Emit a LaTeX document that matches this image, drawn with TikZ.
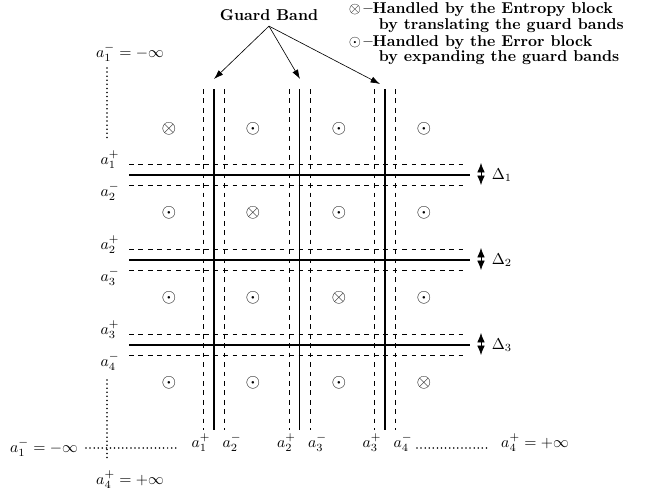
\documentclass[tikz,border=0pt]{standalone}
\usepackage{amsmath}
\usepackage{amssymb}
\usepackage{tikz}
\usetikzlibrary{arrows.meta, positioning}

\begin{document}
\begin{tikzpicture}[
    x=0.637pt, y=-0.637pt,
    gridline/.style={line width=0.9pt},
    bandline/.style={dashed, line width=0.45pt},
    dotline/.style={line width=1.1pt, line cap=round, dash pattern=on 0pt off 2.6pt},
    lbl/.style={inner sep=1pt},
    cell/.style={font=\large},
    legend/.style={anchor=west, inner sep=1pt, font=\bfseries},
    arrow/.style={-{Latex[length=6pt, width=4pt]}, thin},
    darrow/.style={{Latex[length=6pt, width=4.8pt]}-{Latex[length=6pt, width=4.8pt]}, thin}
]
\useasboundingbox (0,0) rectangle (647,494);

% guard bands (dashed) and boundaries (solid)
\foreach \p in {214,299.5,385} {
  \draw [bandline] (\p-10.5,89) -- (\p-10.5,430);
  \draw [bandline] (\p+10.5,89) -- (\p+10.5,430);
  \draw [gridline] (\p,89) -- (\p,430);
}
\foreach \p in {175,260,345} {
  \draw [bandline] (129,\p-10.5) -- (466,\p-10.5);
  \draw [bandline] (129,\p+10.5) -- (466,\p+10.5);
  \draw [gridline] (129,\p) -- (470,\p);
}

% cells
\foreach \x [count=\i] in {169,253,339,424} {
  \foreach \y [count=\j] in {129,213,298,383} {
    \ifnum\i=\j
      \node [cell] (s\i\j) at (\x,\y) {$\otimes$};
    \else
      \node [cell] (s\i\j) at (\x,\y) {$\odot$};
    \fi
  }
}

% row labels
\foreach \k/\p in {1/175,2/260,3/345} {
  \pgfmathtruncatemacro\n{\k+1}
  \node [lbl] (rp\k) at (110,\p-15) {$a_{\k}^{+}$};
  \node [lbl] (rm\n) at (110,\p+17) {$a_{\n}^{-}$};
}
% column labels
\foreach \k/\p in {1/214,2/299.5,3/385} {
  \pgfmathtruncatemacro\n{\k+1}
  \node [lbl] (cp\k) at (\p-13,443) {$a_{\k}^{+}$};
  \node [lbl] (cm\n) at (\p+18,443) {$a_{\n}^{-}$};
}

% infinite ends
\node [lbl] (topinf) at (130,53) {$a_1^- = -\infty$};
\node [lbl] (botinf) at (130,480) {$a_4^+ = +\infty$};
\node [lbl] (leftinf) at (44,448) {$a_1^- = -\infty$};
\node [lbl] (rightinf) at (535,443) {$a_4^+ = +\infty$};
\coordinate (vt1) at (107,68);
\coordinate (vt2) at (107,138);
\coordinate (vb1) at (107,380);
\coordinate (vb2) at (107,458);
\coordinate (hl1) at (86,448);
\coordinate (hl2) at (178,448);
\coordinate (hr1) at (417,448);
\coordinate (hr2) at (487,448);
\draw [dotline] (vt1) -- (vt2);
\draw [dotline] (vb1) -- (vb2);
\draw [dotline] (hl1) -- (hl2);
\draw [dotline] (hr1) -- (hr2);

% band widths
\foreach \k/\p in {1/175,2/260,3/345} {
  \coordinate (dt\k) at (481,\p-12);
  \coordinate (db\k) at (481,\p+10);
  \draw [darrow] (dt\k) -- (db\k);
  \node [lbl, anchor=west] (dl\k) at (490,\p) {$\Delta_{\k}$};
}

% guard band pointer
\node [font=\bfseries] (gb) at (269,15) {Guard Band};
\coordinate (g1) at (214,79);
\coordinate (g2) at (300,79);
\coordinate (g3) at (380,84);
\draw [arrow] (gb.south) -- (g1);
\draw [arrow] (gb.south) -- (g2);
\draw [arrow] (gb.south) -- (g3);

% legend
\node [legend] (leg1) at (347,10) {$\otimes$\,--Handled by the Entropy block};
\node [legend] (leg2) at (377,26) {by translating the guard bands};
\node [legend] (leg3) at (347,43) {$\odot$\,--Handled by the Error block};
\node [legend] (leg4) at (377,58) {by expanding the guard bands};

\end{tikzpicture}
\end{document}
